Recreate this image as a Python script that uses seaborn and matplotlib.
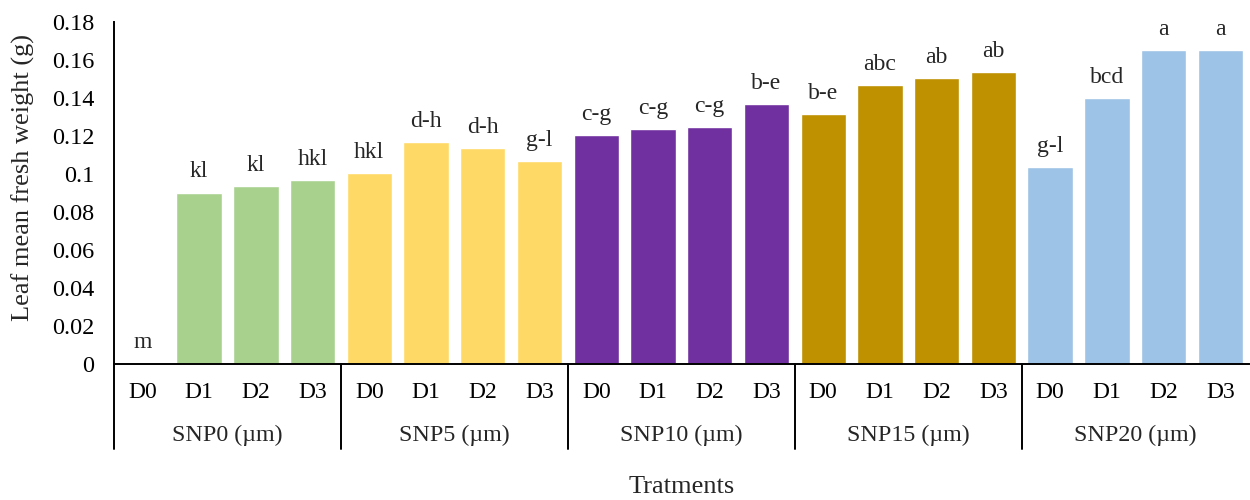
import pandas as pd
import numpy as np
import matplotlib
matplotlib.use("Agg")
import matplotlib.pyplot as plt
import matplotlib.transforms as mtransforms
import seaborn as sns

# data
groups = ["SNP0 (µm)", "SNP5 (µm)", "SNP10 (µm)", "SNP15 (µm)", "SNP20 (µm)"]
doses = ["D0", "D1", "D2", "D3"]
snp0 = [0.0, 0.090, 0.0936, 0.0967]
snp5 = [0.1004, 0.1168, 0.1136, 0.1067]
snp10 = [0.1204, 0.1236, 0.1247, 0.1368]
snp15 = [0.1315, 0.1468, 0.1505, 0.1537]
snp20 = [0.1036, 0.1399, 0.1652, 0.1652]
letters = ["m", "kl", "kl", "hkl",
           "hkl", "d-h", "d-h", "g-l",
           "c-g", "c-g", "c-g", "b-e",
           "b-e", "abc", "ab", "ab",
           "g-l", "bcd", "a", "a"]
colors = ["#A9D18E", "#FFD966", "#7030A0", "#BF9000", "#9DC3E6"]

rows = []
for g, vals in zip(groups, [snp0, snp5, snp10, snp15, snp20]):
    for d, v in zip(doses, vals):
        rows.append({"group": g, "dose": d, "trt": g + " " + d, "weight": v})
df = pd.DataFrame(rows)

sns.set_theme(style="white")
plt.rcParams["font.family"] = ["Liberation Serif", "DejaVu Serif"]

fig = plt.figure(figsize=(12.5, 5), dpi=100)
ax = fig.add_axes([0.0912, 0.273, 0.9078, 0.683])

sns.barplot(data=df, x="trt", y="weight", hue="group", palette=colors,
            dodge=False, width=0.8, saturation=1, legend=False, ax=ax)

ax.set_ylim(0, 0.18)
ax.set_xlim(-0.5, len(df) - 0.5)
ax.set_yticks(np.arange(0, 0.181, 0.02))
ax.set_yticklabels(["0"] + [f"{t:g}" for t in np.arange(0.02, 0.181, 0.02)])
ax.set_xticks(range(len(df)))
ax.set_xticklabels(df["dose"])
ax.tick_params(axis="both", length=0, colors="black")
ax.tick_params(axis="x", pad=13, labelsize=17)
ax.tick_params(axis="y", pad=14, labelsize=17.5)

for s in ["top", "right"]:
    ax.spines[s].set_visible(False)
for s in ["left", "bottom"]:
    ax.spines[s].set_color("black")
    ax.spines[s].set_linewidth(1.4)

# letters above bars
for i, (v, lab) in enumerate(zip(df["weight"], letters)):
    ax.annotate(lab, (i, v), xytext=(0, 11), textcoords="offset points",
                ha="center", va="baseline", fontsize=17)

# group separators and labels below the axis
trans = mtransforms.blended_transform_factory(ax.transData, ax.transAxes)
ax.axvline(-0.5, ymin=-0.25, ymax=0, clip_on=False, color="black", lw=1.4)
for k in range(1, len(groups)):
    ax.axvline(4 * k - 0.5, ymin=-0.25, ymax=0, clip_on=False, color="black", lw=1.4)
for k, g in enumerate(groups):
    ax.text(4 * k + 1.5, -0.212, g, transform=trans, ha="center", va="center", fontsize=17.3)

ax.set_xlabel("Tratments", fontsize=19)
ax.xaxis.set_label_coords(0.5, -0.33)
ax.set_ylabel("Leaf mean fresh weight (g)", fontsize=19)
ax.yaxis.set_label_coords(-0.07, 0.545)

fig.savefig("out.png", dpi=100)
